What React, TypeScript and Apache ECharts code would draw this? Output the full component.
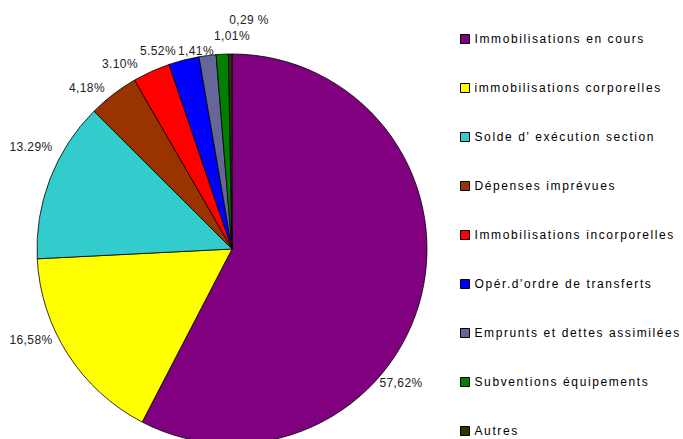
import React, { useEffect, useRef } from "react";
import * as echarts from "echarts";

const categories = [
  "Immobilisations en cours",
  "immobilisations corporelles",
  "Solde d' exécution section",
  "Dépenses imprévues",
  "Immobilisations incorporelles",
  "Opér.d'ordre de transferts",
  "Emprunts et dettes assimilées",
  "Subventions équipements",
  "Autres",
];
const values = [57.62, 16.58, 13.29, 4.18, 3.1, 2.52, 1.41, 1.01, 0.29];
const labelTexts = ["57,62%", "16,58%", "13.29%", "4,18%", "3.10%", "5.52%", "1,41%", "1,01%", "0,29 %"];
const colors = ["#800080", "#FFFF00", "#33CCCC", "#993300", "#FF0000", "#0000FF", "#666699", "#008000", "#333300"];
// label anchor points (layout only)
const labelAnchors: [number, number][] = [
  [401, 383], [31, 340], [31, 147], [87, 88], [120, 64], [158, 51], [196, 51], [232, 36], [249, 20],
];

export default function App() {
  const ref = useRef<HTMLDivElement>(null);
  useEffect(() => {
    if (!ref.current) return;
    const chart = echarts.init(ref.current, null, { renderer: "svg" });
    chart.setOption({
      animation: false,
      backgroundColor: "#ffffff",
      legend: {
        type: "plain",
        orient: "vertical",
        left: 460,
        top: 32,
        padding: 0,
        itemWidth: 9,
        itemHeight: 9,
        itemGap: 35,
        icon: "rect",
        itemStyle: { borderColor: "#000", borderWidth: 1 },
        textStyle: { fontFamily: "Liberation Sans", fontSize: 12, lineHeight: 14, color: "#000" },
        data: categories,
      },
      series: [
        {
          type: "pie",
          center: [232, 249],
          radius: 195,
          startAngle: 90,
          clockwise: true,
          avoidLabelOverlap: false,
          itemStyle: { borderColor: "#000", borderWidth: 0.8 },
          label: {
            show: true,
            position: "outside",
            fontFamily: "Liberation Sans",
            fontSize: 12,
            color: "#222",
            overflow: "none",
            formatter: (p: any) => labelTexts[p.dataIndex],
          },
          labelLine: { show: false },
          labelLayout: (p: any) => ({
            x: labelAnchors[p.dataIndex][0],
            y: labelAnchors[p.dataIndex][1],
            align: "center",
            verticalAlign: "middle",
          }),
          emphasis: { disabled: true },
          data: categories.map((c, i) => ({ name: c, value: values[i], itemStyle: { color: colors[i] } })),
        },
      ],
    });
    return () => chart.dispose();
  }, []);
  return (
    <>
      <style>{`
        .pie-chart svg text { letter-spacing: 0.4px; }
        .pie-chart svg text[text-anchor="start"] { letter-spacing: 1.6px; }
      `}</style>
      <div className="pie-chart" ref={ref} style={{ position: "fixed", left: 0, top: 0, width: 683, height: 439 }} />
    </>
  );
}
